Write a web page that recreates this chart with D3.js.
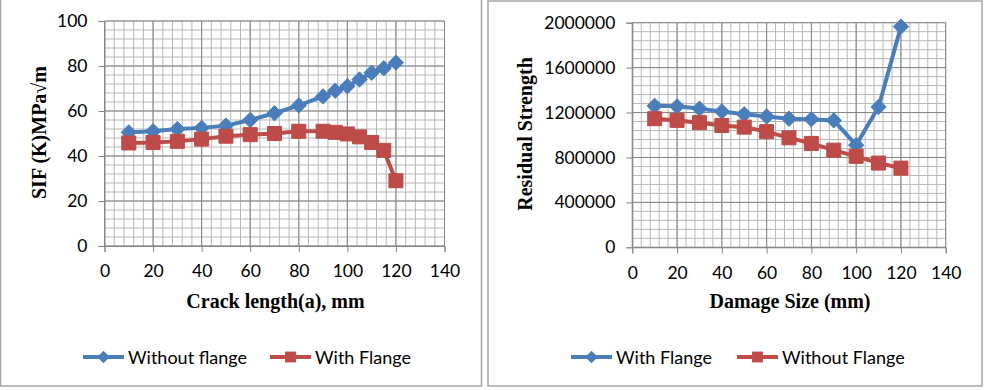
<!DOCTYPE html>
<html>
<head>
<meta charset="utf-8">
<script src="https://cdn.jsdelivr.net/npm/d3@7"></script>
<style>
  body { margin: 0; background: #fff; }
  .tick text { font-family: Lato, "Open Sans", sans-serif; font-size: 17.5px; fill: #000; }
  .title { font-family: "Liberation Serif", "Times New Roman", serif; font-weight: bold; font-size: 20px; }
  .legend { font-family: Lato, "Open Sans", sans-serif; font-size: 18px; }
</style>
</head>
<body>
<div id="chart"></div>
<script>
// data
var crackLength = [10, 20, 30, 40, 50, 60, 70, 80, 90, 95, 100, 105, 110, 115, 120];
var sifWithoutFlange = [50.5, 51, 52, 52.5, 53.5, 56, 59, 62.5, 66.5, 69, 71, 74, 77, 79, 81.5];
var sifWithFlange = [45.8, 46, 46.5, 47.5, 48.8, 49.5, 50, 51, 51, 50.5, 49.8, 48.5, 46, 42.5, 29];

var damageSize = [10, 20, 30, 40, 50, 60, 70, 80, 90, 100, 110, 120];
var strengthWithFlange = [1260000, 1255000, 1235000, 1210000, 1185000, 1165000, 1145000, 1140000, 1130000, 910000, 1250000, 1965000];
var strengthWithoutFlange = [1145000, 1130000, 1110000, 1085000, 1070000, 1030000, 975000, 925000, 865000, 810000, 750000, 705000];

var xTicks = [0, 20, 40, 60, 80, 100, 120, 140];
var sifTicks = [0, 20, 40, 60, 80, 100];
var strengthTicks = [0, 400000, 800000, 1200000, 1600000, 2000000];

var blue = "#4a7ebb";
var red = "#be4b48";

var svg = d3.select("#chart")
  .append("svg")
  .attr("width", 984)
  .attr("height", 390);

// panel frames
svg.append("rect")
  .attr("x", 0.5).attr("y", -2)
  .attr("width", 481).attr("height", 388)
  .attr("fill", "none").attr("stroke", "#a6a6a6").attr("stroke-width", 1.5);
svg.append("rect")
  .attr("x", 488).attr("y", 1)
  .attr("width", 494).attr("height", 385)
  .attr("fill", "none").attr("stroke", "#a6a6a6").attr("stroke-width", 1.5);

function marker(shape, size) {
  var type = shape === "diamond" ? d3.symbolDiamond2 : d3.symbolSquare2;
  return d3.symbol().type(type).size(size)();
}

function drawChart(opt) {
  var x = d3.scaleLinear().domain([0, 140]).range(opt.xRange);
  var y = d3.scaleLinear().domain(opt.yDomain).range(opt.yRange);
  var g = svg.append("g");

  // minor grid, five per major step
  var xMinor = d3.range(0, 140.01, 4);
  var yMinor = d3.range(0, opt.yDomain[1] * 1.0001, opt.yDomain[1] / 25);
  g.selectAll(".vmin").data(xMinor).enter().append("line")
    .attr("x1", d => x(d)).attr("x2", d => x(d))
    .attr("y1", y(0)).attr("y2", y(opt.yDomain[1]))
    .attr("stroke", "#b8b8b8").attr("stroke-width", 1);
  g.selectAll(".hmin").data(yMinor).enter().append("line")
    .attr("x1", x(0)).attr("x2", x(140))
    .attr("y1", d => y(d)).attr("y2", d => y(d))
    .attr("stroke", "#b8b8b8").attr("stroke-width", 1);
  // major grid
  g.selectAll(".vmaj").data(xTicks).enter().append("line")
    .attr("x1", d => x(d)).attr("x2", d => x(d))
    .attr("y1", y(0)).attr("y2", y(opt.yDomain[1]))
    .attr("stroke", "#858585").attr("stroke-width", 1);
  g.selectAll(".hmaj").data(opt.yTicks).enter().append("line")
    .attr("x1", x(0)).attr("x2", x(140))
    .attr("y1", d => y(d)).attr("y2", d => y(d))
    .attr("stroke", "#858585").attr("stroke-width", 1);

  // axes
  var xAxis = g.append("g")
    .attr("transform", `translate(0, ${y(0)})`)
    .call(d3.axisBottom(x).tickValues(xTicks).tickSize(6).tickPadding(13));
  var yAxis = g.append("g")
    .attr("transform", `translate(${x(0)}, 0)`)
    .call(d3.axisLeft(y).tickValues(opt.yTicks).tickSize(6).tickPadding(11).tickFormat(d3.format("d")));
  [xAxis, yAxis].forEach(function(a) {
    a.select(".domain").attr("stroke", "#868686");
    a.selectAll(".tick line").attr("stroke", "#868686");
  });

  // axis titles
  g.append("text")
    .attr("class", "title")
    .attr("x", (x(0) + x(140)) / 2 + 1)
    .attr("y", 308)
    .attr("text-anchor", "middle")
    .text(opt.xTitle);
  g.append("text")
    .attr("class", "title")
    .attr("transform", `translate(${opt.yTitleX}, ${y(opt.yDomain[1] / 2) - 1}) rotate(-90)`)
    .attr("text-anchor", "middle")
    .text(opt.yTitle);

  // series
  opt.series.forEach(function(s) {
    var pts = opt.xs.map((d, i) => [d, s.values[i]]);
    g.append("path")
      .datum(pts)
      .attr("fill", "none")
      .attr("stroke", s.color)
      .attr("stroke-width", 4)
      .attr("stroke-linejoin", "round")
      .attr("d", d3.line().x(d => x(d[0])).y(d => y(d[1])));
    g.selectAll(null).data(pts).enter().append("path")
      .attr("transform", d => `translate(${x(d[0])}, ${y(d[1])})`)
      .attr("d", marker(s.shape, s.shape === "diamond" ? 150 : 250))
      .attr("fill", s.color)
      .attr("stroke", s.color)
      .attr("stroke-width", 1);
  });

  // legend
  opt.series.forEach(function(s, i) {
    var lx = opt.legendX[i];
    var lg = g.append("g").attr("transform", `translate(${lx}, 357)`);
    lg.append("line")
      .attr("x1", 0).attr("x2", 41)
      .attr("stroke", s.color).attr("stroke-width", 4);
    lg.append("path")
      .attr("transform", "translate(20.5, 0)")
      .attr("d", marker(s.shape, s.shape === "diamond" ? 100 : 150))
      .attr("fill", s.color);
    lg.append("text")
      .attr("class", "legend")
      .attr("x", 45)
      .attr("y", 6.5)
      .text(s.name);
  });
}

drawChart({
  xRange: [104.5, 444.5],
  yDomain: [0, 100],
  yRange: [246, 21],
  yTicks: sifTicks,
  xs: crackLength,
  xTitle: "Crack length(a), mm",
  yTitle: "SIF (K)MPa\u221Am",
  yTitleX: 46,
  legendX: [83, 270],
  series: [
    { name: "Without flange", values: sifWithoutFlange, color: blue, shape: "diamond" },
    { name: "With Flange", values: sifWithFlange, color: red, shape: "square" }
  ]
});

drawChart({
  xRange: [632.3, 945.7],
  yDomain: [0, 2000000],
  yRange: [247.3, 22.7],
  yTicks: strengthTicks,
  xs: damageSize,
  xTitle: "Damage Size (mm)",
  yTitle: "Residual Strength",
  yTitleX: 532,
  legendX: [571, 737],
  series: [
    { name: "With Flange", values: strengthWithFlange, color: blue, shape: "diamond" },
    { name: "Without Flange", values: strengthWithoutFlange, color: red, shape: "square" }
  ]
});
</script>
</body>
</html>
